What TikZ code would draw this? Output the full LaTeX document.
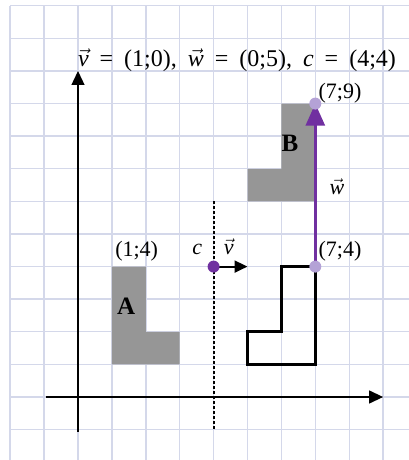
\documentclass[tikz,border=0pt]{standalone}
\usepackage{fontspec}
\setmainfont{Liberation Serif}
\usetikzlibrary{arrows.meta}
\definecolor{gridc}{RGB}{212,216,234}
\definecolor{shade}{RGB}{150,150,150}
\definecolor{purp}{RGB}{112,48,160}
\definecolor{lpurp}{RGB}{180,162,214}
\newcommand\vecl[1]{\ensuremath{\vec{\mbox{\itshape #1}}}}
\newcommand\wsp{\hspace{0.25em}\hspace{5pt}}
\tikzset{
  gridline/.style={gridc, line width=1.4pt},
  shapefill/.style={fill=shade, draw=none},
  axis/.style={black, line width=1.3pt, -{Triangle[length=14pt,width=13pt]}},
  mirror/.style={black, line width=1.8pt, dash pattern=on 2.5pt off 2.5pt},
  outline/.style={black, line width=3pt, line join=miter},
  varrow/.style={black, line width=2pt, -{Triangle[length=13pt,width=12pt]}},
  warrow/.style={purp, line width=2.6pt, -{Triangle[length=22pt,width=19pt]}},
  dot/.style={circle, inner sep=0pt, minimum size=12pt, draw=none},
  lbl/.style={inner sep=0pt, font=\fontsize{22pt}{26pt}\selectfont},
  bigl/.style={inner sep=0pt, font=\fontsize{25pt}{30pt}\selectfont\bfseries},
}
\begin{document}
\begin{tikzpicture}[x=33.9pt,y=32.6pt]
\useasboundingbox (-78pt,-63pt) rectangle (331pt,397pt);
\clip (-78pt,-63pt) rectangle (331pt,397pt);
% grid
\foreach \i in {-2,...,10} \draw[gridline] (\i,-2) -- (\i,12);
\foreach \j in {-2,...,12} \draw[gridline] (-2,\j) -- (10,\j);
% shapes
\fill[shapefill] (1,1) -- (3,1) -- (3,2) -- (2,2) -- (2,4) -- (1,4) -- cycle;
\fill[shapefill] (5,6) -- (7,6) -- (7,9) -- (6,9) -- (6,7) -- (5,7) -- cycle;
% coordinates
\coordinate (xs) at (-0.95,0);
\coordinate (xe) at (9,0);
\coordinate (ys) at (0,-1.07);
\coordinate (ye) at (0,10);
\coordinate (dtop) at (4,6);
\coordinate (dbot) at (4,-1);
\coordinate (c) at (4,4);
\coordinate (ve) at (5,4);
\coordinate (p74) at (7,4);
\coordinate (p79) at (7,9);
% axes
\draw[axis] (xs) -- (xe);
\draw[axis] (ys) -- (ye);
% mirror line
\draw[mirror] (dtop) -- (dbot);
% reflected outline
\draw[outline] (5,1) -- (7,1) -- (7,4) -- (6,4) -- (6,2) -- (5,2) -- cycle;
% vectors
\draw[varrow] (c) -- (ve);
\draw[warrow] (p74) -- (p79);
% dots
\node[dot, fill=purp] (cdot) at (c) {};
\node[dot, fill=lpurp] (d74) at (p74) {};
\node[dot, fill=lpurp] (d79) at (p79) {};
% labels
\node[inner sep=0pt, font=\fontsize{24pt}{28pt}\selectfont] (title) at (4.69,10.33)
  {\vecl{v}\wsp=\wsp(1;0),\wsp\vecl{w}\wsp=\wsp(0;5),\wsp\textit{c}\wsp=\wsp(4;4)};
\node[lbl] (l79) at (7.73,9.33) {(7;9)};
\node[lbl] (l74) at (7.73,4.48) {(7;4)};
\node[lbl] (l14) at (1.73,4.48) {(1;4)};
\node[lbl, anchor=base] (lc) at (3.52,4.36) {\textit{c}};
\node[lbl, anchor=base] (lv) at (4.45,4.36) {\vecl{v}};
\node[lbl, anchor=base] (lw) at (7.64,6.2) {\vecl{w}};
\node[bigl, anchor=base] (lB) at (6.25,7.52) {B};
\node[bigl, anchor=base] (lA) at (1.42,2.52) {A};
\end{tikzpicture}
\end{document}
